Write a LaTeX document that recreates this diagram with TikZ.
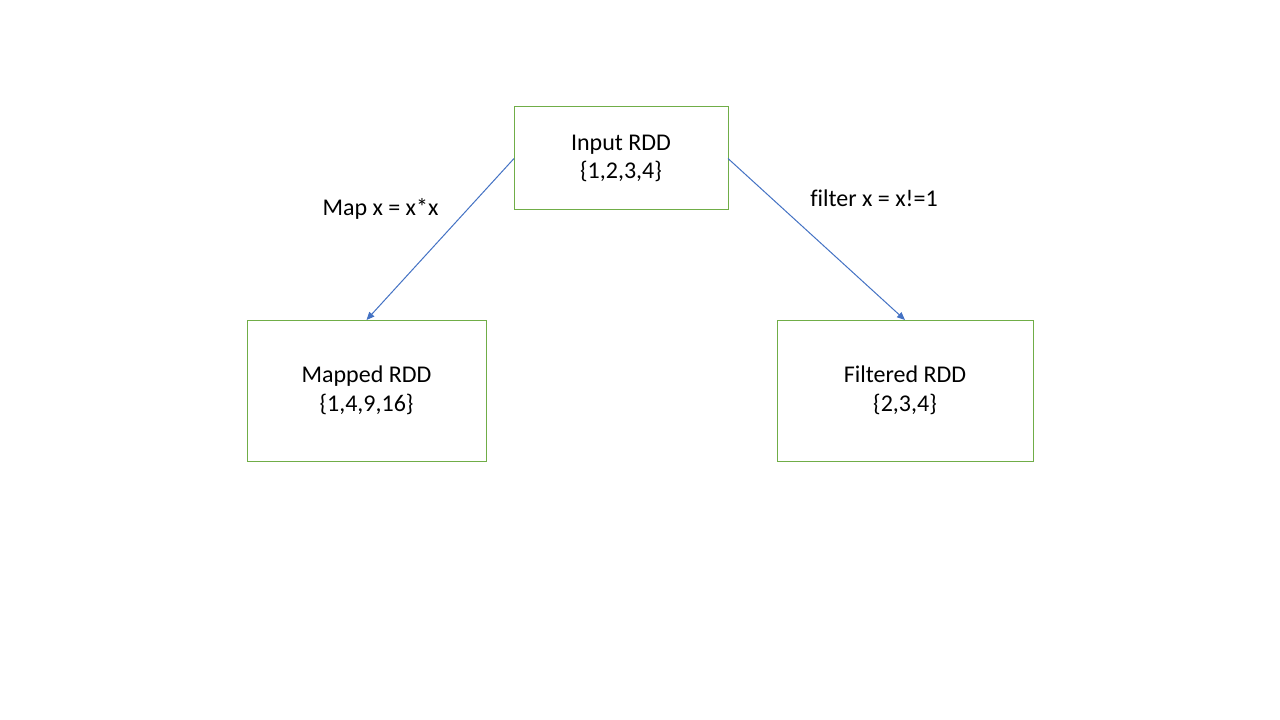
\documentclass[tikz,border=0pt]{standalone}
\usepackage{fontspec}
\setmainfont{Carlito}[Ligatures=NoCommon]
\usetikzlibrary{arrows.meta}
\definecolor{boxgreen}{HTML}{70AD47}
\definecolor{arrblue}{HTML}{4472C4}
\begin{document}
\begin{tikzpicture}[x=0.75pt,y=-0.75pt,
  rddbox/.style={draw=boxgreen,line width=0.75pt,align=center,inner sep=0pt,outer sep=0pt,
    font=\fontsize{18}{21.6}\selectfont},
  conn/.style={draw=arrblue,line width=0.75pt,-{Triangle[length=6pt,width=5pt]}},
  lbl/.style={font=\fontsize{18}{21.6}\selectfont,inner sep=0pt}]
\useasboundingbox (0,0) rectangle (1280,720);
\fill[white] (0,0) rectangle (1280,720);
\node[rddbox,minimum width=214*0.75pt,minimum height=103*0.75pt] (in) at (621,158.5) {\raisebox{-2pt}{Input RDD}\\\raisebox{-2pt}{\{1,2,3,4\}}};
\node[rddbox,minimum width=239*0.75pt,minimum height=141*0.75pt] (map) at (366.5,390.5) {\raisebox{-1.5pt}{Mapped RDD}\\\raisebox{-1.5pt}{\{1,4,9,16\}}};
\node[rddbox,minimum width=256*0.75pt,minimum height=141*0.75pt] (fil) at (905,390.5) {\raisebox{-1.5pt}{Filtered RDD}\\\raisebox{-1.5pt}{\{2,3,4\}}};
\draw[conn] (in.west) -- (map.north);
\draw[conn] (in.east) -- (fil.north);
\node[lbl] (l1) at (380.5,209) {Map x = x*x};
\node[lbl] (l2) at (874,198) {filter x = x!=1};
\end{tikzpicture}
\end{document}
